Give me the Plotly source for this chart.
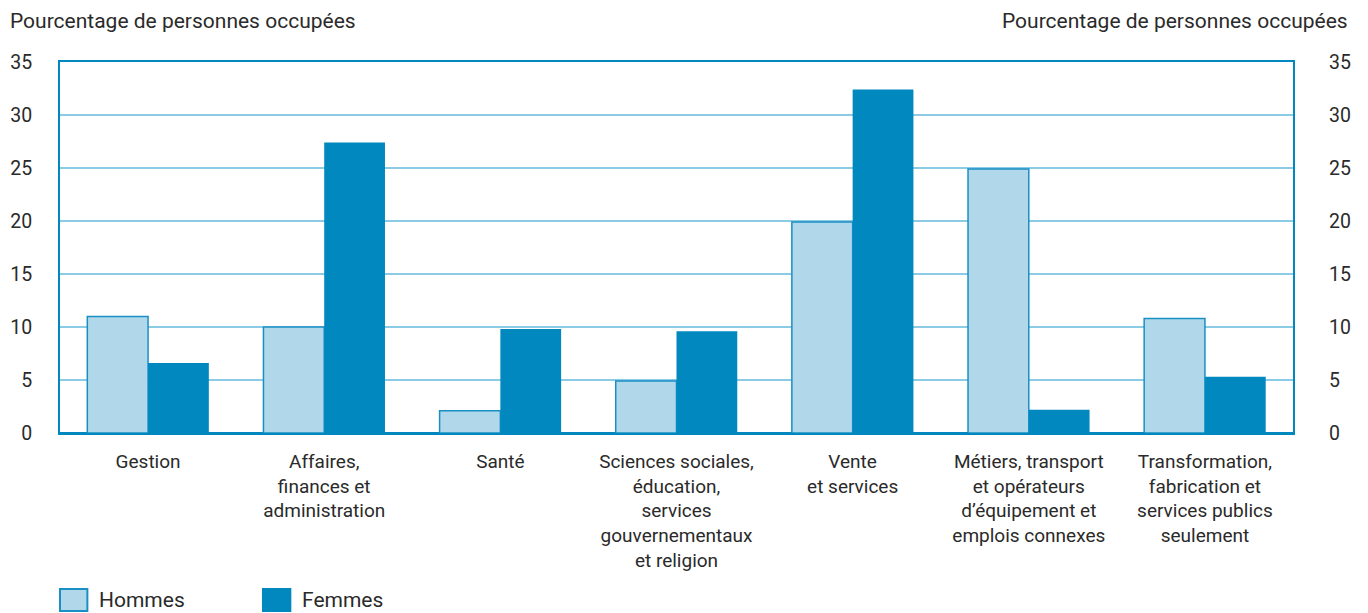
import plotly.graph_objects as go

categories = [
    "Gestion",
    "Affaires,<br>finances et<br>administration",
    "Santé",
    "Sciences sociales,<br>éducation,<br>services<br>gouvernementaux<br>et religion",
    "Vente<br>et services",
    "Métiers, transport<br>et opérateurs<br>d’équipement et<br>emplois connexes",
    "Transformation,<br>fabrication et<br>services publics<br>seulement",
]
hommes = [11.0, 10.0, 2.1, 4.9, 19.9, 24.9, 10.8]
femmes = [6.6, 27.4, 9.8, 9.6, 32.4, 2.2, 5.3]
y_ticks = [0, 5, 10, 15, 20, 25, 30, 35]
series_names = ["Hommes", "Femmes"]

FONT = "Roboto, Arial"
DARK = "#0088bf"
LIGHT = "#b0d8ea"
EDGE = "#1a8fc4"
GRID = "#8ccbe6"
TXT = "#2a2a2a"

fig = go.Figure()
fig.add_trace(go.Bar(x=categories, y=hommes, name=series_names[0],
                     marker=dict(color=LIGHT, line=dict(color=EDGE, width=1.5))))
fig.add_trace(go.Bar(x=categories, y=femmes, name=series_names[1],
                     marker=dict(color=DARK, line=dict(color=DARK, width=0))))
fig.add_trace(go.Scatter(x=categories, y=hommes, yaxis="y2", mode="markers",
                         marker=dict(opacity=0), showlegend=False, hoverinfo="skip"))

fig.update_layout(
    width=1360, height=605,
    margin=dict(l=52, r=75, t=54, b=180, autoexpand=False),
    paper_bgcolor="white", plot_bgcolor="white",
    barmode="group", bargap=0.31, bargroupgap=0,
    font=dict(family=FONT, size=20, color=TXT),
    showlegend=False,
    xaxis=dict(showline=True, linecolor=DARK, linewidth=2, mirror=True, automargin=False,
               ticks="", ticklabelstandoff=10, tickfont=dict(size=19, color=TXT)),
    yaxis=dict(range=[0, 35], tickvals=y_ticks, showgrid=True, gridcolor=GRID, gridwidth=2,
               showline=True, linecolor=DARK, linewidth=2, mirror=True, automargin=False,
               ticks="", ticklabelstandoff=22, zeroline=True, zerolinecolor=DARK, zerolinewidth=3,
               tickfont=dict(size=19.5, color=TXT)),
    yaxis2=dict(range=[0, 35], tickvals=y_ticks, overlaying="y", side="right",
                showgrid=False, zeroline=False, ticks="", ticklabelstandoff=35, automargin=False,
                tickfont=dict(size=19.5, color=TXT), showline=False),
)
fig.add_annotation(text="Pourcentage de personnes occupées", xref="paper", yref="paper",
                   x=-0.0422, y=1.0, yshift=41, xanchor="left", yanchor="middle", showarrow=False,
                   font=dict(size=21, color=TXT))
fig.add_annotation(text="Pourcentage de personnes occupées", xref="paper", yref="paper",
                   x=1.0462, y=1.0, yshift=41, xanchor="right", yanchor="middle", showarrow=False,
                   font=dict(size=21, color=TXT))

# custom legend
legend_items = [
    (series_names[0], LIGHT, EDGE, 0.0, 0.030),
    (series_names[1], DARK, DARK, 0.1646, 0.1946),
]
for name, fill, edge, x0, xt in legend_items:
    fig.add_shape(type="rect", xref="paper", yref="paper", x0=x0, x1=x0 + 0.0222,
                  y0=-0.4798, y1=-0.4205, fillcolor=fill, line=dict(color=edge, width=2))
    fig.add_annotation(text=name, xref="paper", yref="paper", x=xt, y=-0.45,
                       xanchor="left", yanchor="middle", showarrow=False,
                       font=dict(size=21, color=TXT))
fig.write_html("out.html")
